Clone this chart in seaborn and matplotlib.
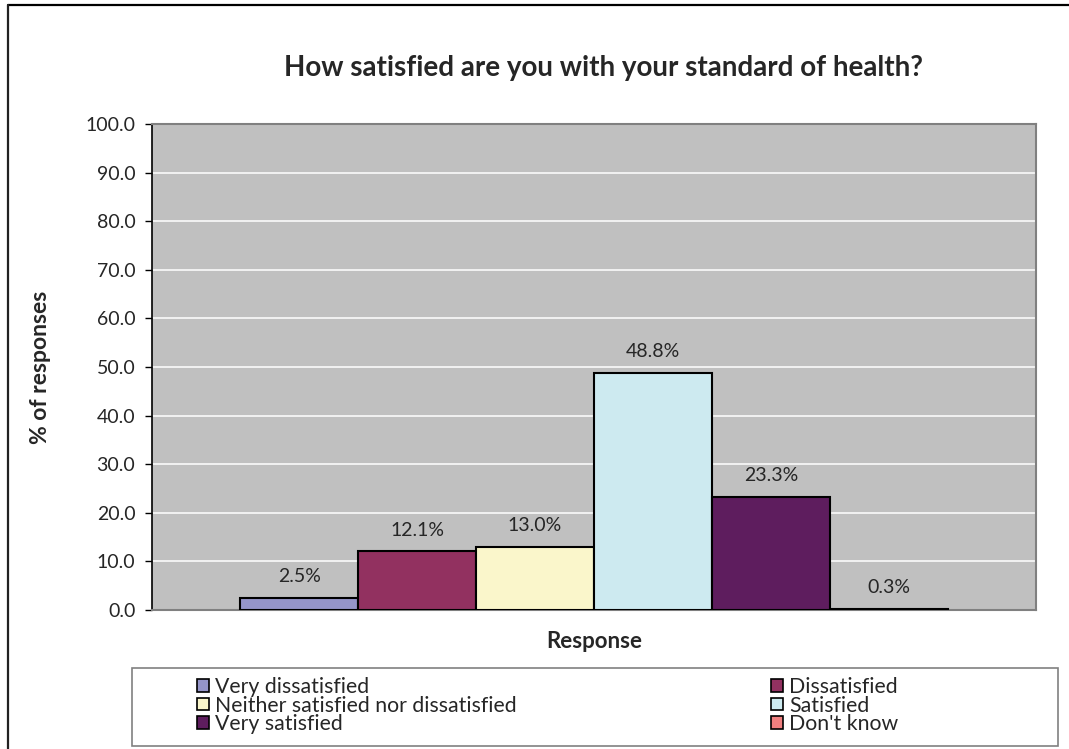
import matplotlib
matplotlib.use("Agg")
import matplotlib.pyplot as plt
from matplotlib.lines import Line2D
from matplotlib.patches import Rectangle, Patch
import seaborn as sns
import pandas as pd

# Survey results
categories = ["Very dissatisfied", "Dissatisfied", "Neither satisfied nor dissatisfied",
              "Satisfied", "Very satisfied", "Don't know"]
percentages = [2.5, 12.1, 13.0, 48.8, 23.3, 0.3]
colors = ["#9595C9", "#923160", "#FAF6CB", "#CDEAF0", "#5E1D5E", "#F08080"]
y_ticks = [0, 10, 20, 30, 40, 50, 60, 70, 80, 90, 100]

title = "How satisfied are you with your standard of health?"
x_label = "Response"
y_label = "% of responses"

df = pd.DataFrame({"Response": [""] * len(categories),
                   "Category": categories,
                   "Percent": percentages})

sns.set_theme(style="white")
plt.rcParams["font.family"] = ["Lato", "DejaVu Sans"]

W, H = 1069, 749
fig = plt.figure(figsize=(W / 100, H / 100), dpi=100)
fig.patch.set_facecolor("white")

def fx(px):
    return px / W

def fy(py):
    return 1 - py / H

ax = fig.add_axes([fx(152), fy(610), fx(1036) - fx(152), fy(124) - fy(610)])
ax.set_facecolor("#C0C0C0")

sns.barplot(data=df, x="Response", y="Percent", hue="Category",
            hue_order=categories, palette=colors, width=0.8,
            edgecolor="black", linewidth=1.5, saturation=1,
            legend=False, ax=ax, zorder=3)

ax.set_ylim(0, 100)
ax.set_xlim(-0.5, 0.5)
ax.set_yticks(y_ticks)
ax.set_yticklabels([f"{v:.1f}" for v in y_ticks], fontsize=14)
ax.set_xticks([])
ax.yaxis.grid(True, color="white", linewidth=1.1, zorder=0)
ax.set_axisbelow(True)
ax.tick_params(axis="y", direction="out", length=5, width=1, color="black",
               left=True, pad=7)

for side in ["top", "right", "bottom"]:
    ax.spines[side].set_color("#808080")
    ax.spines[side].set_linewidth(1.5)
ax.spines["left"].set_color("black")
ax.spines["left"].set_linewidth(1.2)

# Value labels above each bar
for cont, val in zip(ax.containers, percentages):
    ax.bar_label(cont, labels=[f"{val:.1f}%"], padding=9, fontsize=14)

ax.set_xlabel("")
ax.set_ylabel("")
fig.text(fx(604), fy(68), title, ha="center", va="center",
         fontsize=20, fontweight="bold")
fig.text(fx(41), fy(367), y_label, ha="center", va="center",
         rotation=90, fontsize=16.5, fontweight="bold")
fig.text(fx(594), fy(642), x_label, ha="center", va="center",
         fontsize=16, fontweight="bold")

# Legend box with two columns
fig.patches.append(Rectangle((fx(132), fy(746)), fx(1058) - fx(132), fy(668) - fy(746),
                             transform=fig.transFigure, facecolor="white",
                             edgecolor="#808080", linewidth=1.2))
handles = [Patch(facecolor=c, edgecolor="black", linewidth=1.2) for c in colors]
col1 = [0, 2, 4]
col2 = [1, 3, 5]
for idx, xpos in [(col1, 197), (col2, 771)]:
    fig.legend([handles[i] for i in idx], [categories[i] for i in idx],
               loc="upper left", bbox_to_anchor=(fx(xpos), fy(677)),
               frameon=False, fontsize=15.3, handlelength=0.55,
               handleheight=0.55, handletextpad=0.3, labelspacing=-0.07,
               borderpad=0, borderaxespad=0)

# Outer chart frame (top and left edges)
fig.add_artist(Line2D([fx(7.5), 1], [fy(4.5), fy(4.5)], transform=fig.transFigure,
                      color="black", linewidth=1.6))
fig.add_artist(Line2D([fx(7.5), fx(7.5)], [fy(4.5), 0], transform=fig.transFigure,
                      color="#222222", linewidth=1.6))

fig.savefig("out.png", dpi=100)
